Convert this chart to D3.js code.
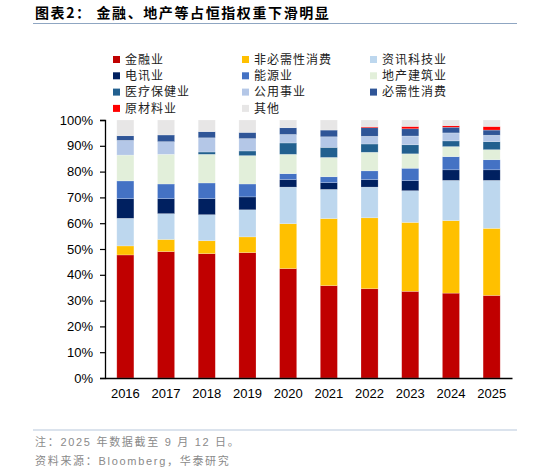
<!DOCTYPE html>
<html>
<head>
<meta charset="utf-8">
<script src="https://cdn.jsdelivr.net/npm/d3@7"></script>
<style>
  body { margin: 0; background: #fff; }
  svg { display: block; }
</style>
</head>
<body>
<svg id="chart"></svg>
<script>
// Years on the x axis
const years = ['2016', '2017', '2018', '2019', '2020', '2021', '2022', '2023', '2024', '2025'];

// Sector names (stack order, bottom to top)
const sectors = ['金融业', '非必需性消费', '资讯科技业', '电讯业', '能源业', '地产建筑业',
  '医疗保健业', '公用事业', '必需性消费', '原材料业', '其他'];

// Weight of each sector in the index, % per year
const finance     = [47.7, 49.0, 48.2, 48.6, 42.4, 35.8, 34.6, 33.6, 32.9, 32.0];
const consDisc    = [3.5, 4.7, 5.0, 6.1, 17.4, 26.0, 27.5, 26.7, 28.1, 26.0];
const infoTech    = [10.7, 10.0, 10.1, 10.5, 14.2, 11.3, 11.9, 12.3, 15.6, 18.6];
const telecom     = [7.6, 5.8, 6.2, 5.0, 2.9, 2.6, 2.9, 3.9, 4.1, 4.1];
const energy      = [6.9, 5.7, 6.1, 5.0, 2.3, 2.3, 3.4, 4.8, 5.1, 3.9];
const property    = [10.0, 11.5, 11.1, 11.0, 7.5, 7.5, 7.2, 5.6, 3.9, 3.9];
const healthcare  = [0, 0, 0.9, 1.8, 4.4, 3.9, 3.2, 3.5, 2.2, 3.1];
const utilities   = [5.7, 4.9, 5.5, 4.8, 3.3, 4.1, 3.0, 3.4, 3.1, 2.5];
const consStaples = [1.8, 2.6, 2.4, 2.4, 2.6, 2.6, 3.3, 2.8, 2.2, 2.0];
const materials   = [0, 0, 0, 0, 0, 0, 0.4, 0.9, 0.6, 1.4];
const others      = [6.1, 5.8, 4.5, 4.8, 3.0, 3.9, 2.6, 2.5, 2.2, 2.5];

const seriesValues = [finance, consDisc, infoTech, telecom, energy, property,
  healthcare, utilities, consStaples, materials, others];

const colors = ['#C00000', '#FFC000', '#BDD7EE', '#002060', '#4472C4', '#E2EFDA',
  '#22608F', '#B4C7E7', '#2F5597', '#FF0000', '#E7E6E6'];

// table for d3.stack
const table = years.map((y, i) => {
  const row = { year: y };
  sectors.forEach((s, k) => { row[s] = seriesValues[k][i]; });
  return row;
});

const W = 535, H = 475;
const margin = { top: 120, right: 23, bottom: 97, left: 105 };
const width = W - margin.left - margin.right;
const height = H - margin.top - margin.bottom;

const svg = d3.select('#chart').attr('width', W).attr('height', H);

// Title
svg.append('text')
  .attr('x', 35).attr('y', 18)
  .style('font-family', '"Noto Sans CJK SC", sans-serif')
  .style('font-size', '14px')
  .style('font-weight', 'bold')
  .style('letter-spacing', '1.6px')
  .attr('fill', '#000')
  .text('图表2：  金融、地产等占恒指权重下滑明显');

svg.append('line')
  .attr('x1', 33).attr('x2', 517).attr('y1', 23.5).attr('y2', 23.5)
  .attr('stroke', '#8FA6C2').attr('stroke-width', 1);

// Legend
const legend = svg.append('g');
sectors.forEach((s, i) => {
  const col = i % 3, row = Math.floor(i / 3);
  const lx = [113, 242, 370][col];
  const ly = 59.5 + row * 16.3;
  legend.append('rect')
    .attr('x', lx).attr('y', ly - 3.5).attr('width', 7).attr('height', 7)
    .attr('fill', colors[i]);
  legend.append('text')
    .attr('x', lx + 12).attr('y', ly)
    .attr('dy', '0.36em')
    .style('font-family', '"Noto Sans CJK SC", sans-serif')
    .style('font-size', '12px')
    .style('letter-spacing', '1px')
    .attr('fill', '#222')
    .text(s);
});

const g = svg.append('g').attr('transform', `translate(${margin.left},${margin.top})`);

const x = d3.scaleBand()
  .domain(years)
  .range([0, width])
  .paddingInner(0.58)
  .paddingOuter(0.29);

const y = d3.scaleLinear()
  .domain([0, 1])
  .range([height, 0]);

const stack = d3.stack()
  .keys(sectors)
  .offset(d3.stackOffsetExpand);

const layers = stack(table);

g.selectAll('.layer')
  .data(layers)
  .enter().append('g')
  .attr('class', 'layer')
  .attr('fill', (d, i) => colors[i])
  .selectAll('rect')
  .data(d => d)
  .enter().append('rect')
  .attr('x', d => x(d.data.year))
  .attr('y', d => y(d[1]))
  .attr('width', x.bandwidth())
  .attr('height', d => y(d[0]) - y(d[1]))
  .attr('stroke', 'rgba(255,255,255,0.35)')
  .attr('stroke-width', 0.6);

// Y axis
const yAxis = g.append('g')
  .call(d3.axisLeft(y).tickValues(d3.range(0, 1.01, 0.1)).tickFormat(d3.format('.0%')).tickSize(5).tickPadding(7));
yAxis.select('.domain').attr('stroke', '#000').attr('stroke-width', 1.3);
yAxis.selectAll('.tick line').attr('stroke', '#000').attr('stroke-width', 1.2);
yAxis.selectAll('text')
  .style('font-family', '"Liberation Sans", Arial, sans-serif')
  .style('font-size', '13px')
  .attr('fill', '#000');

// X axis
const xAxis = g.append('g')
  .attr('transform', `translate(0,${height})`)
  .call(d3.axisBottom(x).tickSize(0).tickPadding(11));
xAxis.select('.domain').attr('stroke', '#000').attr('stroke-width', 1.3);
xAxis.selectAll('text')
  .style('font-family', '"Liberation Sans", Arial, sans-serif')
  .style('font-size', '13px')
  .attr('fill', '#000');

// Footer
svg.append('line')
  .attr('x1', 33).attr('x2', 517).attr('y1', 430).attr('y2', 430)
  .attr('stroke', '#B7C7DB').attr('stroke-width', 1);

const foot = [
  '注：2025 年数据截至 9 月 12 日。',
  '资料来源：Bloomberg，华泰研究'
];
foot.forEach((t, i) => {
  svg.append('text')
    .attr('x', 35).attr('y', 442 + i * 19.5)
    .attr('dy', '0.36em')
    .style('font-family', '"Liberation Sans", "Noto Sans CJK SC", sans-serif')
    .style('font-size', '11px')
    .style('letter-spacing', '1.7px')
    .attr('fill', '#8A8A8A')
    .text(t);
});
</script>
</body>
</html>
